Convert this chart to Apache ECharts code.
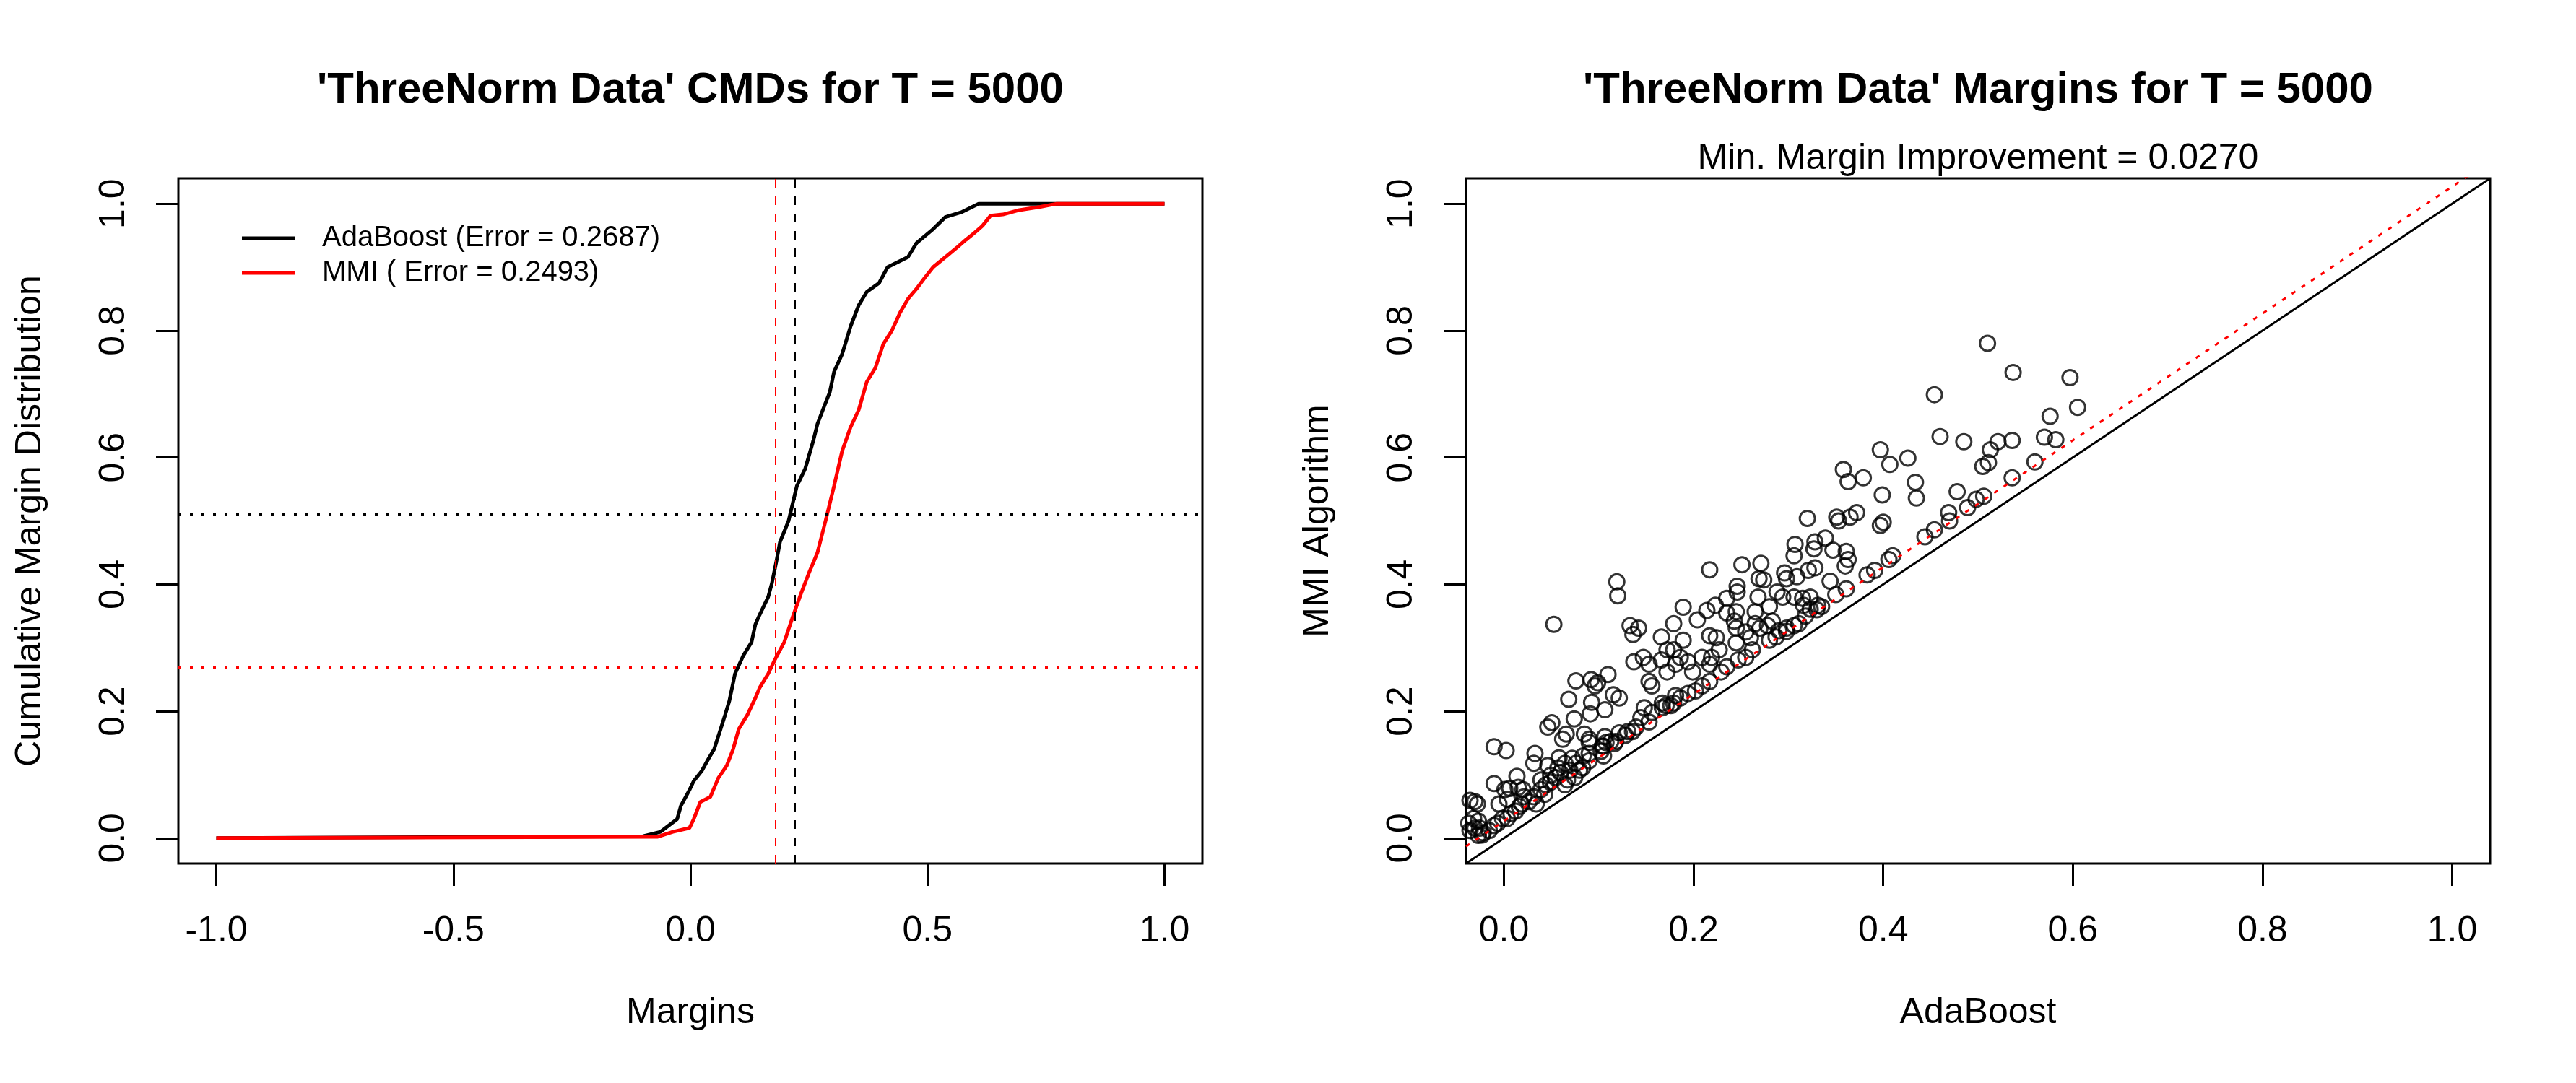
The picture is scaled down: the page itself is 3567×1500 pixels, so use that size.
<!DOCTYPE html>
<html>
<head>
<meta charset="utf-8">
<title>ThreeNorm Data</title>
<style>
html, body { margin: 0; padding: 0; background: #fff; }
#main { width: 3567px; height: 1500px; }
</style>
</head>
<body>
<div id="main"></div>
<script src="https://cdn.jsdelivr.net/npm/echarts@6/dist/echarts.min.js"></script>
<script>
// tick labels
var cmdTicks = [-1, -0.5, 0, 0.5, 1];
var unitTicks = [0, 0.2, 0.4, 0.6, 0.8, 1];

// cumulative margin distributions
var adaCdfX = [-1, -0.1, -0.063, -0.028, -0.02, -0.002, 0.007, 0.024, 0.038, 0.05, 0.059, 0.073, 0.082, 0.094, 0.111, 0.129, 0.137, 0.146, 0.164, 0.172, 0.181, 0.189, 0.207, 0.2245, 0.242, 0.259, 0.268, 0.285, 0.294, 0.303, 0.32, 0.338, 0.355, 0.372, 0.398, 0.416, 0.459, 0.477, 0.512, 0.538, 0.573, 0.608, 1];
var adaCdfY = [0, 0.003, 0.01, 0.03, 0.051, 0.076, 0.09, 0.106, 0.125, 0.14, 0.161, 0.194, 0.216, 0.259, 0.287, 0.309, 0.337, 0.352, 0.38, 0.402, 0.435, 0.467, 0.5, 0.555, 0.582, 0.626, 0.653, 0.686, 0.703, 0.735, 0.763, 0.807, 0.84, 0.861, 0.875, 0.9, 0.916, 0.938, 0.96, 0.979, 0.987, 1, 1];
var mmiCdfX = [-1, -0.07, -0.037, -0.002, 0.007, 0.021, 0.042, 0.059, 0.0765, 0.09, 0.102, 0.12, 0.137, 0.146, 0.164, 0.178, 0.198, 0.215, 0.233, 0.25, 0.268, 0.285, 0.303, 0.32, 0.338, 0.355, 0.372, 0.39, 0.407, 0.425, 0.442, 0.459, 0.477, 0.494, 0.512, 0.538, 0.564, 0.581, 0.599, 0.616, 0.633, 0.659, 0.694, 0.738, 0.773, 1];
var mmiCdfY = [0, 0.002, 0.01, 0.016, 0.03, 0.057, 0.065, 0.095, 0.114, 0.14, 0.172, 0.194, 0.221, 0.237, 0.259, 0.281, 0.309, 0.347, 0.385, 0.418, 0.45, 0.5, 0.555, 0.61, 0.648, 0.675, 0.719, 0.741, 0.779, 0.8, 0.828, 0.85, 0.866, 0.883, 0.9, 0.916, 0.932, 0.943, 0.954, 0.965, 0.981, 0.983, 0.99, 0.995, 1, 1];

// reference lines on the left panel
var adaVLine = 0.2156, mmiVLine = 0.176;
var adaHLine = 0.505, mmiHLine = 0.27;
// min. margin improvement (right panel)
var minImprovement = 0.027;

// per-example margins (right panel): AdaBoost vs MMI
var adaMargins = [
  0.510, 0.537, 0.597, 0.454, 0.605, 0.576, 0.460, 0.485, 0.521, 0.536, 0.570, 0.582, 0.513, 0.511, 0.505, 0.560, 0.536,
  0.397, 0.407, 0.426, 0.358, 0.363, 0.379, 0.434, 0.435, 0.399, 0.478, 0.506, 0.498, 0.489, 0.469, 0.470, 0.454, 0.444,
  0.400, 0.397, 0.410, 0.406, 0.391, 0.383, 0.320, 0.351, 0.353, 0.365, 0.372, 0.339, 0.328, 0.327, 0.347, 0.361, 0.363,
  0.360, 0.328, 0.321, 0.344, 0.361, 0.350, 0.323,
  0.217, 0.251, 0.271, 0.307, 0.306, 0.189, 0.214, 0.223, 0.204, 0.235, 0.246, 0.246, 0.269, 0.274, 0.296, 0.298, 0.309,
  0.294, 0.306, 0.315, 0.288, 0.268, 0.235, 0.245, 0.265, 0.280, 0.283, 0.243, 0.245, 0.265, 0.316, 0.323, 0.335, 0.270,
  0.278, 0.290, 0.298, 0.298, 0.255, 0.224, 0.217, 0.245, 0.260, 0.280, 0.287, 0.262, 0.255, 0.247, 0.235, 0.229, 0.217,
  0.209, 0.202, 0.194, 0.186, 0.179, 0.227, 0.219, 0.209, 0.217, 0.194, 0.199, 0.181, 0.186, 0.179, 0.189, 0.179, 0.166,
  0.172, 0.166, 0.172, 0.153, 0.147, 0.137, 0.153, 0.156, 0.133, 0.142, 0.136, 0.167, 0.181, 0.331, 0.330, 0.311, 0.318,
  0.306,
  0.119, 0.120, 0.0526, 0.0759, 0.0919, 0.0988, 0.1097, 0.096, 0.0683, 0.0924, 0.1064, 0.0911, 0.0741, 0.1153, 0.1216,
  0.0505, 0.0462, 0.0657, 0.0619, 0.0848, 0.0899, 0.0899, 0.1064, 0.1165, 0.1216, 0.128, 0.1305, 0.1356, 0.1444, 0.1394,
  0.148, 0.156, 0.153, 0.167, 0.171, 0.176, -0.0104, 0.0023, 0.0327, 0.0315, 0.0462, 0.0581, 0.072, 0.0759, 0.0835,
  0.0899, 0.0899, 0.083, 0.1025, 0.105, 0.105, 0.0644, 0.0695, 0.0569, 0.0594, 0.0543, 0.0492, 0.039, 0.0442, 0.049,
  0.0137, 0.0061, 0.015, 0.020, -0.0104, 0.001, -0.0053, 0.0036, 0.0162, 0.0188, 0.0124, 0.0315, 0.0264, 0.034, 0.039,
  0.0429, 0.0213, -0.0307, -0.0358, -0.028, -0.032, -0.027, -0.0257, -0.0307, -0.0219, -0.023, -0.027, -0.0371, -0.0358,
  -0.0155, -0.0104, -0.0066, -0.0015, 0.0036, 0.0074, 0.067, 0.0644, 0.0746, 0.0797, 0.1038, 0.1076, 0.1127, 0.1178
];
var mmiMargins = [
  0.780, 0.734, 0.726, 0.699, 0.679, 0.665, 0.633, 0.625, 0.625, 0.627, 0.632, 0.628, 0.612, 0.592, 0.586, 0.593, 0.568,
  0.612, 0.589, 0.599, 0.581, 0.562, 0.568, 0.561, 0.536, 0.541, 0.546, 0.539, 0.534, 0.521, 0.513, 0.500, 0.486, 0.475,
  0.498, 0.493, 0.445, 0.439, 0.422, 0.415, 0.504, 0.506, 0.500, 0.506, 0.513, 0.473, 0.467, 0.456, 0.454, 0.452, 0.439,
  0.429, 0.426, 0.422, 0.405, 0.393, 0.384, 0.380,
  0.423, 0.431, 0.433, 0.463, 0.445, 0.364, 0.359, 0.367, 0.344, 0.378, 0.397, 0.388, 0.409, 0.407, 0.418, 0.409, 0.412,
  0.380, 0.380, 0.378, 0.388, 0.380, 0.355, 0.357, 0.357, 0.365, 0.342, 0.342, 0.331, 0.338, 0.367, 0.361, 0.365, 0.331,
  0.335, 0.327, 0.331, 0.326, 0.325, 0.316, 0.319, 0.308, 0.316, 0.312, 0.317, 0.297, 0.285, 0.281, 0.270, 0.262, 0.247,
  0.240, 0.232, 0.228, 0.221, 0.213, 0.297, 0.285, 0.285, 0.274, 0.278, 0.262, 0.274, 0.285, 0.297, 0.312, 0.338, 0.317,
  0.297, 0.281, 0.262, 0.274, 0.285, 0.278, 0.247, 0.240, 0.335, 0.331, 0.321, 0.213, 0.225, 0.367, 0.360, 0.338, 0.350,
  0.335,
  0.404, 0.382, 0.337, 0.248, 0.250, 0.245, 0.258, 0.240, 0.219, 0.214, 0.2025, 0.196, 0.188, 0.226, 0.221,
  0.182, 0.175, 0.164, 0.156, 0.164, 0.156, 0.151, 0.160, 0.149, 0.166, 0.162, 0.168, 0.168, 0.190, 0.175,
  0.2055, 0.198, 0.183, 0.2055, 0.209, 0.209, 0.144, 0.138, 0.1335, 0.118, 0.1145, 0.1267, 0.126, 0.118, 0.1296,
  0.1335, 0.122, 0.111, 0.137, 0.145, 0.1296, 0.118, 0.107, 0.1107, 0.103, 0.0955, 0.099, 0.0917, 0.084, 0.088,
  0.0974, 0.0784, 0.080, 0.0766, 0.086, 0.0766, 0.0538, 0.0613, 0.050, 0.0538, 0.0424, 0.0652, 0.0576, 0.0538, 0.0766,
  0.069, 0.0652, 0.0576, 0.0595, 0.0538, 0.031, 0.027, 0.0158, 0.0158, 0.0083, 0.005, 0.0045, 0.0235, 0.012,
  0.012, 0.0197, 0.0235, 0.031, 0.031, 0.0386, 0.0917, 0.084, 0.0955, 0.107, 0.145, 0.1506, 0.1524, 0.1524
];

var adaName = 'AdaBoost (Error = 0.2687)';
var mmiName = 'MMI ( Error = 0.2493)';

var font = '"Liberation Sans", Arial, Helvetica, sans-serif';
var cmdMin = -1.08, cmdMax = 1.08;
var unitMin = -0.04, unitMax = 1.04;

// plain line icon for the legend (thin bar in a 74x40 box)
var lineIcon = 'path://M0,0 L0.01,0 L0,0.01 Z M0,17.5 L74,17.5 L74,22.5 L0,22.5 Z M74,40 L73.99,40 L74,39.99 Z';

function zip(a, b) {
  var out = [];
  for (var i = 0; i < a.length; i++) out.push([a[i], b[i]]);
  return out;
}

function makeAxis(gridIndex, min, max, ticks, name, isY) {
  return {
    type: 'value',
    gridIndex: gridIndex,
    min: min,
    max: max,
    name: name,
    nameLocation: 'middle',
    nameGap: isY ? 180 : 182,
    nameTextStyle: { fontSize: 50, color: '#000', fontFamily: font },
    axisLine: { show: false, onZero: false },
    splitLine: { show: false },
    axisTick: {
      show: true, inside: false, length: 31, customValues: ticks,
      lineStyle: { color: '#000', width: 3 }
    },
    axisLabel: {
      customValues: ticks,
      formatter: function (v) { return v.toFixed(1); },
      fontSize: 50, color: '#000', fontFamily: font,
      rotate: isY ? 90 : 0,
      margin: isY ? 64 : 69
    }
  };
}

var chart = echarts.init(document.getElementById('main'));

var option = {
  animation: false,
  backgroundColor: '#fff',
  title: [
    { text: "'ThreeNorm Data' CMDs for T = 5000", left: 956, top: 95, textAlign: 'center', padding: 0,
      textStyle: { fontSize: 60, fontWeight: 'bold', fontFamily: font, color: '#000' } },
    { text: "'ThreeNorm Data' Margins for T = 5000", left: 2739, top: 95, textAlign: 'center', padding: 0,
      textStyle: { fontSize: 60, fontWeight: 'bold', fontFamily: font, color: '#000' } },
    { text: 'Min. Margin Improvement = 0.0270', left: 2739, top: 195, textAlign: 'center', padding: 0,
      textStyle: { fontSize: 50, fontWeight: 'normal', fontFamily: font, color: '#000' } }
  ],
  legend: {
    data: [
      { name: adaName, icon: lineIcon },
      { name: mmiName, icon: lineIcon }
    ],
    orient: 'vertical',
    left: 335, top: 310,
    padding: 0,
    itemWidth: 74, itemHeight: 40, itemGap: 8,
    selectedMode: false,
    textStyle: { fontSize: 40, fontFamily: font, color: '#000', padding: [0, 0, 0, 32] }
  },
  grid: [
    { left: 247, top: 247, width: 1418, height: 949, show: true, borderColor: '#000', borderWidth: 3, backgroundColor: 'transparent' },
    { left: 2030, top: 247, width: 1418, height: 949, show: true, borderColor: '#000', borderWidth: 3, backgroundColor: 'transparent' }
  ],
  xAxis: [
    makeAxis(0, cmdMin, cmdMax, cmdTicks, 'Margins', false),
    makeAxis(1, unitMin, unitMax, unitTicks, 'AdaBoost', false)
  ],
  yAxis: [
    makeAxis(0, unitMin, unitMax, unitTicks, 'Cumulative Margin Distribution', true),
    makeAxis(1, unitMin, unitMax, unitTicks, 'MMI Algorithm', true)
  ],
  series: [
    {
      name: adaName, type: 'line', xAxisIndex: 0, yAxisIndex: 0,
      data: zip(adaCdfX, adaCdfY), symbol: 'none', showSymbol: false,
      lineStyle: { color: '#000', width: 5 }, itemStyle: { color: '#000' },
      markLine: {
        silent: true, symbol: 'none', label: { show: false },
        data: [
          { xAxis: adaVLine, lineStyle: { color: '#000', width: 2, type: [12, 12] } },
          { yAxis: adaHLine, lineStyle: { color: '#000', width: 4, type: [4, 12] } }
        ]
      }
    },
    {
      name: mmiName, type: 'line', xAxisIndex: 0, yAxisIndex: 0,
      data: zip(mmiCdfX, mmiCdfY), symbol: 'none', showSymbol: false,
      lineStyle: { color: '#ff0000', width: 5 }, itemStyle: { color: '#ff0000' },
      markLine: {
        silent: true, symbol: 'none', label: { show: false },
        data: [
          { xAxis: mmiVLine, lineStyle: { color: '#ff0000', width: 2, type: [12, 12] } },
          { yAxis: mmiHLine, lineStyle: { color: '#ff0000', width: 4, type: [4, 12] } }
        ]
      }
    },
    {
      name: 'margins', type: 'scatter', xAxisIndex: 1, yAxisIndex: 1,
      data: zip(adaMargins, mmiMargins),
      symbol: 'circle', symbolSize: 21,
      itemStyle: { color: 'rgba(0,0,0,0)', borderColor: '#000', borderWidth: 3 }
    },
    {
      name: 'diagonal', type: 'line', xAxisIndex: 1, yAxisIndex: 1, clip: true,
      data: [[unitMin, unitMin], [unitMax, unitMax]], symbol: 'none',
      lineStyle: { color: '#000', width: 3 }
    },
    {
      name: 'improvement', type: 'line', xAxisIndex: 1, yAxisIndex: 1, clip: true,
      data: [[unitMin, unitMin + minImprovement], [unitMax, unitMax + minImprovement]], symbol: 'none',
      lineStyle: { color: '#ff0000', width: 3, type: [6, 10] }
    }
  ]
};

chart.setOption(option);
</script>
</body>
</html>
